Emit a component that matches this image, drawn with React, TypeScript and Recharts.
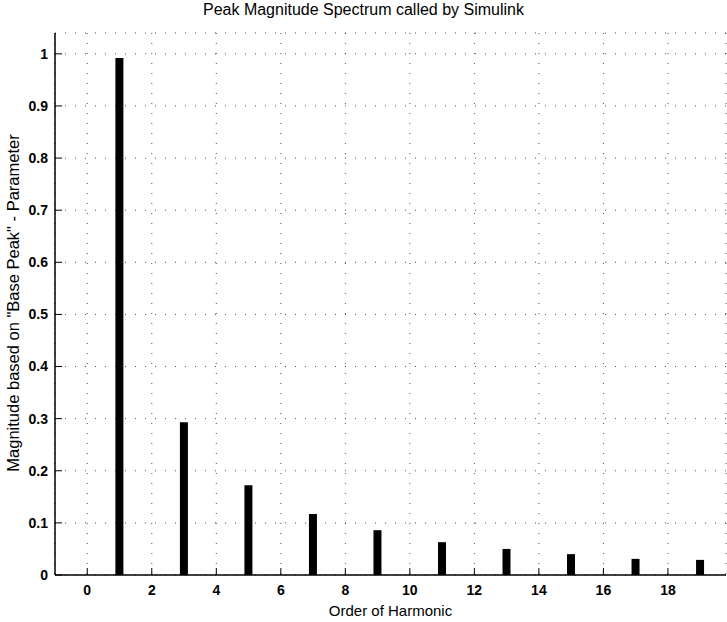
import { BarChart, Bar, XAxis, YAxis, CartesianGrid, Label } from "recharts";

// harmonic order on x, magnitude relative to base peak on y
const ORDERS = [0, 1, 2, 3, 4, 5, 6, 7, 8, 9, 10, 11, 12, 13, 14, 15, 16, 17, 18, 19];
const MAGNITUDES = [
  0, 0.992, 0, 0.293, 0, 0.172, 0, 0.117, 0, 0.086,
  0, 0.063, 0, 0.05, 0, 0.04, 0, 0.031, 0, 0.029,
];
const X_TICKS = [0, 2, 4, 6, 8, 10, 12, 14, 16, 18];
const Y_TICKS = [0, 0.1, 0.2, 0.3, 0.4, 0.5, 0.6, 0.7, 0.8, 0.9, 1];

const data = ORDERS.map((order, i) => ({ order, value: MAGNITUDES[i] }));

const FONT = "Arial, 'Liberation Sans', Helvetica, sans-serif";
const TICK_LEN = 7;

function BottomTick(props: any) {
  const { x, y, payload } = props;
  return (
    <g>
      <line x1={x} x2={x} y1={y} y2={y - TICK_LEN} stroke="#000" />
      <text x={x} y={y + 15} dy="0.35em" textAnchor="middle" fontSize={14} fontWeight="bold" fontFamily={FONT} fill="#000">
        {payload.value}
      </text>
    </g>
  );
}

function TopTick(props: any) {
  const { x, y } = props;
  return <line x1={x} x2={x} y1={y} y2={y + TICK_LEN} stroke="#000" />;
}

function LeftTick(props: any) {
  const { x, y, payload } = props;
  return (
    <g>
      <line x1={x} x2={x + TICK_LEN} y1={y} y2={y} stroke="#000" />
      <text x={x - 7} y={y} dy="0.35em" textAnchor="end" fontSize={14} fontWeight="bold" fontFamily={FONT} fill="#000">
        {payload.value}
      </text>
    </g>
  );
}

function RightTick(props: any) {
  const { x, y } = props;
  return <line x1={x} x2={x - TICK_LEN} y1={y} y2={y} stroke="#000" />;
}

export default function App() {
  return (
    <div style={{ position: "absolute", left: 0, top: 0, width: 727, height: 622, background: "#fff" }}>
      <div
        style={{
          position: "absolute",
          left: 0,
          top: 0,
          width: 727,
          textAlign: "center",
          fontFamily: FONT,
          fontSize: 16,
          lineHeight: "20px",
          color: "#000",
        }}
      >
        Peak Magnitude Spectrum called by Simulink
      </div>
      <BarChart
        width={727}
        height={622}
        data={data}
        margin={{ top: 33, right: 1, bottom: 0, left: 0 }}
        barSize={8}
      >
        <CartesianGrid stroke="#000" strokeDasharray="1 9" strokeOpacity={0.7} />
        <XAxis
          dataKey="order"
          type="number"
          domain={[-1, 19.8]}
          ticks={X_TICKS}
          allowDataOverflow
          height={47}
          tickSize={0}
          tickMargin={0}
          tickLine={false}
          axisLine={{ stroke: "#000", strokeWidth: 1.5 }}
          tick={BottomTick}
          interval={0}
        >
          <Label
            value="Order of Harmonic"
            position="insideBottom"
            offset={6}
            style={{ fontFamily: FONT, fontSize: 15, fill: "#000" }}
          />
        </XAxis>
        <XAxis
          xAxisId="top"
          orientation="top"
          type="number"
          domain={[-1, 19.8]}
          ticks={X_TICKS}
          allowDataOverflow
          height={0}
          tickSize={0}
          tickMargin={0}
          tickLine={false}
          axisLine={{ stroke: "#000", strokeWidth: 1.5 }}
          tick={TopTick}
          interval={0}
        />
        <YAxis
          type="number"
          domain={[0, 1.04]}
          ticks={Y_TICKS}
          allowDataOverflow
          width={55}
          tickSize={0}
          tickMargin={0}
          tickLine={false}
          axisLine={{ stroke: "#000", strokeWidth: 1.5 }}
          tick={LeftTick}
          interval={0}
        >
          <Label
            content={() => (
              <text
                x={13}
                y={303}
                dy="0.35em"
                transform="rotate(-90 13 303)"
                textAnchor="middle"
                fontSize={16.5}
                fontFamily={FONT}
                fill="#000"
              >
                Magnitude based on "Base Peak" - Parameter
              </text>
            )}
          />
        </YAxis>
        <YAxis
          yAxisId="right"
          orientation="right"
          type="number"
          domain={[0, 1.04]}
          ticks={Y_TICKS}
          allowDataOverflow
          width={0}
          tickSize={0}
          tickMargin={0}
          tickLine={false}
          axisLine={{ stroke: "#000", strokeWidth: 1.5 }}
          tick={RightTick}
          interval={0}
        />
        <Bar dataKey="value" fill="#000" isAnimationActive={false} />
      </BarChart>
    </div>
  );
}
